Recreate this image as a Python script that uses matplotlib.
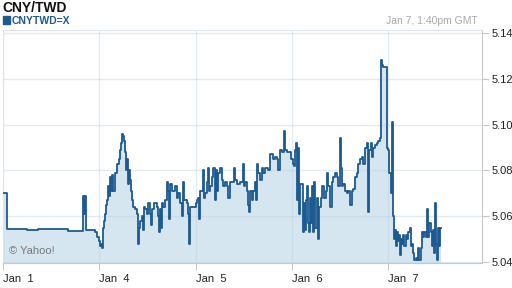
import matplotlib
matplotlib.use("Agg")
import matplotlib.pyplot as plt
from matplotlib.patches import Rectangle

plt.rcParams['font.family'] = ['Liberation Sans', 'DejaVu Sans']

# trading-day position (0 = Jan 1, 1 = Jan 4, ...) and CNY/TWD quote
t = [0.000, 0.042, 0.249, 0.363, 0.675, 0.831, 0.841, 0.852, 0.862, 0.955,
     0.976, 0.997, 1.007, 1.018, 1.028, 1.038, 1.049, 1.059, 1.070, 1.080,
     1.090, 1.101, 1.111, 1.122, 1.132, 1.143, 1.163, 1.184, 1.205, 1.215,
     1.225, 1.236, 1.246, 1.257, 1.267, 1.277, 1.288, 1.298, 1.308, 1.319,
     1.329, 1.340, 1.350, 1.371, 1.392, 1.402, 1.412, 1.423, 1.444, 1.454,
     1.464, 1.475, 1.495, 1.506, 1.526, 1.537, 1.547, 1.568, 1.599, 1.610,
     1.620, 1.630, 1.641, 1.651, 1.661, 1.682, 1.703, 1.713, 1.724, 1.734,
     1.755, 1.786, 1.807, 1.817, 1.838, 1.859, 1.869, 1.879, 1.911, 1.921,
     1.931, 1.942, 2.004, 2.015, 2.025, 2.035, 2.046, 2.077, 2.087, 2.098,
     2.118, 2.129, 2.139, 2.150, 2.171, 2.181, 2.202, 2.212, 2.222, 2.233,
     2.253, 2.274, 2.285, 2.305, 2.326, 2.336, 2.357, 2.399, 2.409, 2.430,
     2.461, 2.492, 2.503, 2.513, 2.534, 2.544, 2.555, 2.565, 2.586, 2.596,
     2.617, 2.627, 2.638, 2.648, 2.669, 2.690, 2.700, 2.721, 2.752, 2.773,
     2.804, 2.825, 2.846, 2.856, 2.876, 2.897, 2.918, 2.928, 2.949, 2.990,
     3.011, 3.022, 3.032, 3.043, 3.053, 3.063, 3.074, 3.084, 3.105, 3.115,
     3.126, 3.136, 3.147, 3.157, 3.167, 3.178, 3.188, 3.198, 3.209, 3.219,
     3.230, 3.240, 3.261, 3.271, 3.282, 3.302, 3.313, 3.333, 3.354, 3.365,
     3.375, 3.396, 3.416, 3.427, 3.448, 3.468, 3.479, 3.500, 3.510, 3.520,
     3.531, 3.551, 3.572, 3.583, 3.603, 3.624, 3.634, 3.655, 3.676, 3.686,
     3.707, 3.728, 3.738, 3.759, 3.780, 3.790, 3.801, 3.821, 3.832, 3.842,
     3.863, 3.884, 3.894, 3.915, 3.925, 3.936, 3.946, 3.988, 3.998, 4.008,
     4.029, 4.039, 4.050, 4.060, 4.071, 4.081, 4.091, 4.102, 4.112, 4.123,
     4.133, 4.143, 4.154, 4.164, 4.185, 4.195, 4.206, 4.226, 4.237, 4.247,
     4.257, 4.268, 4.289, 4.299, 4.309, 4.320, 4.340, 4.351, 4.361, 4.372,
     4.392, 4.403, 4.413, 4.423, 4.444, 4.455, 4.465, 4.476, 4.486, 4.496,
     4.507, 4.517, 4.527, 4.538, 4.548]
rate = [5.070, 5.0545, 5.054, 5.0545, 5.0535, 5.069, 5.061, 5.069, 5.054, 5.053,
        5.051, 5.049, 5.047, 5.048, 5.046, 5.055, 5.058, 5.061, 5.065, 5.067,
        5.073, 5.069, 5.077, 5.071, 5.078, 5.071, 5.079, 5.083, 5.085, 5.089,
        5.092, 5.096, 5.095, 5.093, 5.088, 5.080, 5.085, 5.074, 5.080, 5.076,
        5.071, 5.067, 5.064, 5.063, 5.061, 5.048, 5.055, 5.058, 5.060, 5.054,
        5.064, 5.063, 5.061, 5.066, 5.061, 5.056, 5.063, 5.066, 5.064, 5.060,
        5.053, 5.063, 5.055, 5.066, 5.064, 5.067, 5.075, 5.071, 5.059, 5.074,
        5.071, 5.073, 5.068, 5.070, 5.066, 5.060, 5.075, 5.067, 5.066, 5.061,
        5.048, 5.064, 5.066, 5.067, 5.068, 5.059, 5.071, 5.080, 5.068, 5.070,
        5.075, 5.081, 5.071, 5.073, 5.077, 5.081, 5.067, 5.080, 5.071, 5.079,
        5.081, 5.076, 5.073, 5.075, 5.073, 5.068, 5.075, 5.081, 5.076, 5.074,
        5.075, 5.083, 5.073, 5.075, 5.071, 5.065, 5.062, 5.071, 5.067, 5.071,
        5.075, 5.067, 5.083, 5.079, 5.076, 5.081, 5.079, 5.081, 5.080, 5.087,
        5.085, 5.086, 5.085, 5.080, 5.089, 5.088, 5.097, 5.089, 5.088, 5.085,
        5.083, 5.082, 5.089, 5.092, 5.067, 5.090, 5.061, 5.074, 5.074, 5.053,
        5.066, 5.054, 5.067, 5.073, 5.057, 5.053, 5.068, 5.057, 5.073, 5.053,
        5.075, 5.055, 5.068, 5.050, 5.064, 5.068, 5.073, 5.068, 5.071, 5.079,
        5.073, 5.064, 5.075, 5.077, 5.079, 5.077, 5.073, 5.094, 5.081, 5.073,
        5.074, 5.071, 5.070, 5.071, 5.065, 5.071, 5.072, 5.077, 5.079, 5.083,
        5.085, 5.086, 5.083, 5.090, 5.092, 5.062, 5.089, 5.092, 5.086, 5.090,
        5.091, 5.092, 5.093, 5.094, 5.128, 5.126, 5.125, 5.090, 5.089, 5.079,
        5.070, 5.101, 5.060, 5.050, 5.054, 5.047, 5.053, 5.049, 5.052, 5.043,
        5.050, 5.048, 5.052, 5.047, 5.052, 5.050, 5.053, 5.055, 5.047, 5.048,
        5.044, 5.041, 5.042, 5.041, 5.046, 5.041, 5.046, 5.053, 5.051, 5.053,
        5.051, 5.063, 5.051, 5.057, 5.053, 5.047, 5.054, 5.044, 5.066, 5.048,
        5.041, 5.055, 5.047, 5.055, 5.055]

day_pos = [0, 1, 2, 3, 4]
day_labels = ["Jan  1", "Jan  4", "Jan  5", "Jan  6", "Jan  7"]
y_ticks = [5.04, 5.06, 5.08, 5.10, 5.12, 5.14]

line_col = "#1d5a92"
fill_col = "#d6e6f1"

fig = plt.figure(figsize=(5.12, 2.88), dpi=100)
ax = fig.add_axes([3 / 512, 1 - 263 / 288, 479 / 512, 233 / 288])

ax.fill_between(t, rate, 5.0, step="post", color=fill_col, lw=0, zorder=1)
ax.step(t, rate, where="post", color=line_col, lw=1.3, zorder=3)

ax.set_xlim(0, 4.974)
ax.set_ylim(5.0396, 5.1413)

ax.set_xticks(day_pos)
ax.set_xticklabels(day_labels, ha="left")
ax.set_yticks(y_ticks)
ax.set_yticklabels([f"{v:.2f}" for v in y_ticks])
ax.yaxis.tick_right()
ax.tick_params(axis="both", length=5, width=0.8, color="#c8c8c8",
               labelsize=8, labelcolor="#222222", pad=2)
ax.tick_params(axis="x", pad=3)

ax.grid(True, color="#b8cde0", alpha=0.4, lw=1.0, zorder=2)
ax.set_axisbelow("line")
for side in ["top", "left"]:
    ax.spines[side].set_color("#dde3ea")
for side in ["bottom", "right"]:
    ax.spines[side].set_color("#c8c8c8")

ax.text(0.012, 0.04, "\u00a9 Yahoo!", transform=ax.transAxes, fontsize=8,
        color="#777777", zorder=5)

fig.text(2 / 512, 1 - 12 / 288, "CNY/TWD", fontsize=10, fontweight="bold",
         color="#111111", va="baseline")
fig.patches.append(Rectangle((3 / 512, 1 - 24 / 288), 7 / 512, 8 / 288,
                             transform=fig.transFigure, color=line_col))
fig.text(12 / 512, 1 - 24 / 288, "CNYTWD=X", fontsize=7.5, fontweight="bold",
         color=line_col, va="baseline")
fig.text(478 / 512, 1 - 24 / 288, "Jan 7, 1:40pm GMT", fontsize=7.5,
         color="#aaaaaa", ha="right", va="baseline")

fig.savefig("out.png", dpi=100)
